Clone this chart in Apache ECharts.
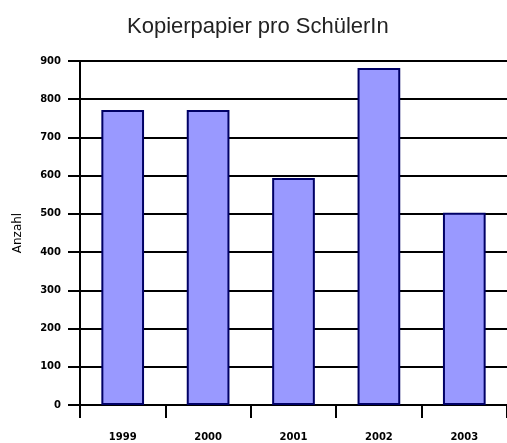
<!DOCTYPE html>
<html>
<head>
<meta charset="utf-8">
<script src="https://cdn.jsdelivr.net/npm/echarts@6/dist/echarts.min.js"></script>
<style>
  html, body { margin: 0; padding: 0; background: #fff; }
  #chart { width: 507px; height: 443px; }
</style>
</head>
<body>
<div id="chart"></div>
<script>
var years = ["1999", "2000", "2001", "2002", "2003"];
var sheets = [772, 772, 594, 882, 503];
var yTicks = [0, 100, 200, 300, 400, 500, 600, 700, 800, 900];

var chart = echarts.init(document.getElementById("chart"));
var option = {
  animation: false,
  title: {
    text: "Kopierpapier pro SchülerIn",
    left: 122,
    top: 11,
    textStyle: {
      fontFamily: "Liberation Sans",
      fontSize: 22,
      fontWeight: "normal",
      color: "#222"
    }
  },
  grid: {
    left: 80,
    top: 61,
    width: 430,
    bottom: 38,
    containLabel: false
  },
  xAxis: {
    type: "category",
    data: years,
    axisLine: { lineStyle: { color: "#000", width: 2 } },
    axisTick: { show: true, length: 13, lineStyle: { color: "#000", width: 2 } },
    axisLabel: {
      margin: 27,
      fontSize: 10,
      fontWeight: "bold",
      fontFamily: "DejaVu Sans",
      color: "#000"
    }
  },
  yAxis: {
    type: "value",
    min: yTicks[0],
    max: yTicks[yTicks.length - 1],
    interval: 100,
    name: "Anzahl",
    nameLocation: "middle",
    nameGap: 56,
    nameTextStyle: { fontSize: 12, color: "#000", fontFamily: "DejaVu Sans", letterSpacing: 2 },
    axisLine: { show: true, lineStyle: { color: "#000", width: 2 } },
    axisTick: { show: true, length: 12, lineStyle: { color: "#000", width: 2 } },
    axisLabel: {
      margin: 19,
      fontSize: 10,
      fontWeight: "bold",
      fontFamily: "DejaVu Sans",
      color: "#000"
    },
    splitLine: { show: true, lineStyle: { color: "#000", width: 2 } }
  },
  series: [
    {
      type: "bar",
      data: sheets,
      barWidth: "50%",
      itemStyle: {
        color: "#9999ff",
        borderColor: "#000066",
        borderWidth: 2
      }
    }
  ]
};
chart.setOption(option);
</script>
</body>
</html>
